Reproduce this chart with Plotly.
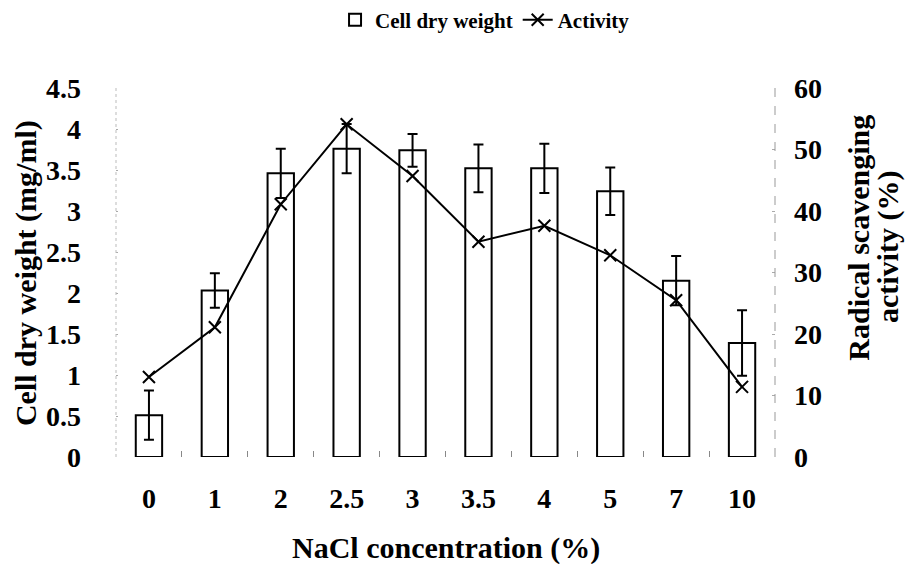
import plotly.graph_objects as go

categories = ["0", "1", "2", "2.5", "3", "3.5", "4", "5", "7", "10"]
cell_dry_weight = [0.51, 2.03, 3.46, 3.76, 3.74, 3.52, 3.52, 3.24, 2.15, 1.39]
cdw_error = [0.30, 0.21, 0.30, 0.30, 0.20, 0.29, 0.30, 0.29, 0.30, 0.40]
activity = [13.0, 21.1, 41.1, 54.1, 45.7, 35.0, 37.6, 32.8, 25.5, 11.4]

left_ticks = [0, 0.5, 1, 1.5, 2, 2.5, 3, 3.5, 4, 4.5]
left_ticktext = ["0", "0.5", "1", "1.5", "2", "2.5", "3", "3.5", "4", "4.5"]
right_ticks = [0, 10, 20, 30, 40, 50, 60]

FONT = "Liberation Serif, Times New Roman, serif"

fig = go.Figure()
fig.add_trace(go.Bar(
    x=categories, y=cell_dry_weight, name="Cell dry weight",
    width=0.4,
    marker=dict(color="white", line=dict(color="black", width=2)),
    error_y=dict(type="data", array=cdw_error, visible=True,
                 color="black", thickness=2, width=5),
    yaxis="y",
))
fig.add_trace(go.Scatter(
    x=categories, y=activity, name="Activity", mode="lines+markers",
    line=dict(color="black", width=2),
    marker=dict(symbol="x-thin", size=12, line=dict(color="black", width=2), color="black"),
    yaxis="y2",
))

fig.update_layout(
    width=909, height=564,
    margin=dict(l=116, r=134, t=88, b=107, autoexpand=False),
    paper_bgcolor="white", plot_bgcolor="white",
    font=dict(family=FONT, size=28, color="black"),
    showlegend=True,
    legend=dict(orientation="h", x=0.56, xanchor="center", y=1.184, yanchor="middle",
                font=dict(family=FONT, size=21, color="black", weight="bold"),
                tracegroupgap=0),
    xaxis=dict(type="category", showgrid=False, showline=False, zeroline=False,
               ticks="inside", tickson="boundaries", ticklen=6, tickcolor="#888",
               tickfont=dict(family=FONT, size=28, weight="bold"),
               ticklabelstandoff=22, range=[-0.5, 9.5]),
    yaxis=dict(range=[0, 4.5], tickvals=left_ticks, ticktext=left_ticktext,
               showgrid=False, showline=False, zeroline=False,
               ticks="inside", ticklen=2, tickcolor="#aaa",
               tickfont=dict(family=FONT, size=28, weight="bold"),
               ticklabelstandoff=34),
    yaxis2=dict(range=[0, 60], tickvals=right_ticks, overlaying="y", side="right",
                showgrid=False, showline=False, zeroline=False,
                ticks="inside", ticklen=3, tickcolor="#aaa",
                tickfont=dict(family=FONT, size=28, weight="bold"),
                ticklabelstandoff=18),
    shapes=[
        dict(type="line", xref="paper", yref="paper", x0=0, x1=0, y0=0, y1=1,
             line=dict(color="#bbb", width=1, dash="dot")),
        dict(type="line", xref="paper", yref="paper", x0=1, x1=1, y0=0, y1=1,
             line=dict(color="#999", width=1, dash="dash")),
    ],
    annotations=[
        dict(text="<b>Cell dry weight (mg/ml)</b>", xref="paper", yref="paper",
             x=-0.1365, y=0.4986, textangle=-90, showarrow=False,
             xanchor="center", yanchor="middle", font=dict(family=FONT, size=30)),
        dict(text="<b>Radical scavenging</b>", xref="paper", yref="paper",
             x=1.127, y=0.5935, textangle=-90, showarrow=False,
             xanchor="center", yanchor="middle", font=dict(family=FONT, size=30)),
        dict(text="<b>activity (%)</b>", xref="paper", yref="paper",
             x=1.1715, y=0.569, textangle=-90, showarrow=False,
             xanchor="center", yanchor="middle", font=dict(family=FONT, size=30)),
        dict(text="<b>NaCl concentration (%)</b>", xref="paper", yref="paper",
             x=0.5008, y=-0.2466, showarrow=False,
             xanchor="center", yanchor="middle", font=dict(family=FONT, size=30)),
    ],
)

fig.write_html("out.html")
